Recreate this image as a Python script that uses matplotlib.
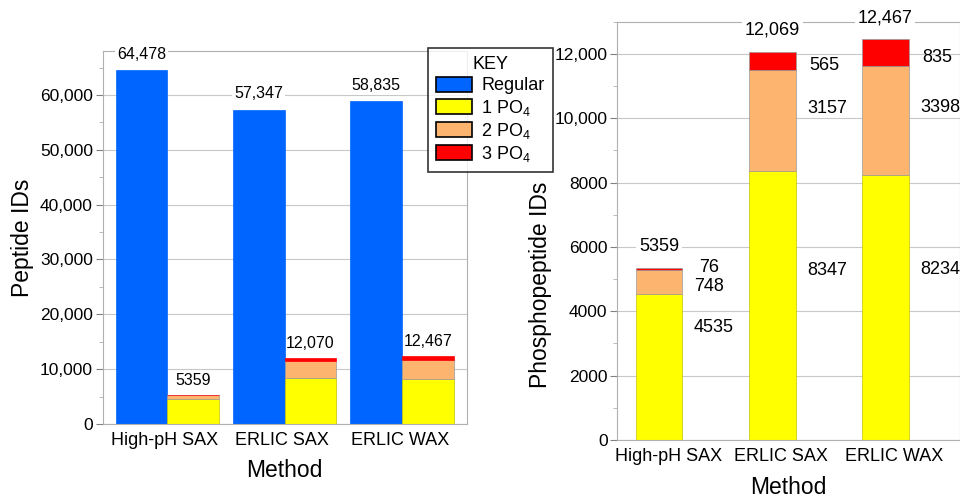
import numpy as np
import matplotlib.pyplot as plt
from matplotlib.patches import Patch
from matplotlib.ticker import FuncFormatter, MultipleLocator

plt.rcParams['font.family'] = ['Liberation Sans', 'DejaVu Sans']
plt.rcParams['mathtext.fontset'] = 'custom'
plt.rcParams['mathtext.rm'] = 'Liberation Sans'

# Data
methods = ['High-pH SAX', 'ERLIC SAX', 'ERLIC WAX']
regular = [64478, 57347, 58835]
one_po4 = [4535, 8347, 8234]
two_po4 = [748, 3157, 3398]
three_po4 = [76, 565, 835]
phospho_total = [5359, 12070, 12467]       # as printed on left panel
phospho_total_right = [5359, 12069, 12467]  # as printed on right panel

# label heights for the segment labels on the right panel (data units)
lab_one_y = [3480, 5280, 5310]
lab_two_y = [4780, 10310, 10350]
lab_three_y = [5370, 11650, 11900]

c_blue = '#0064ff'
c_yellow = '#ffff00'
c_orange = '#fdb46e'
c_red = '#ff0000'
edge = '#9a9a9a'
grid_c = '#c8c8c8'

fig = plt.figure(figsize=(9.6, 4.97), dpi=100)
ax1 = fig.add_axes([0.107, 0.147, 0.379, 0.750])
ax2 = fig.add_axes([0.643, 0.115, 0.357, 0.841])

def thousands(v, pos):
    return '{:,.0f}'.format(v)

def style_axes(ax):
    for s in ax.spines.values():
        s.set_color('#b0b0b0')
        s.set_linewidth(0.8)
    ax.tick_params(axis='y', which='major', length=5, color='#808080', labelsize=12.5, pad=2)
    ax.tick_params(axis='y', which='minor', length=3, color='#b0b0b0')
    ax.tick_params(axis='x', length=0, labelsize=13, pad=6)
    ax.yaxis.grid(True, color=grid_c, linewidth=0.8)
    ax.set_axisbelow(True)

x = np.arange(len(methods))
bw = 0.44

# Left panel
ax1.bar(x - bw / 2, regular, bw, color=c_blue, edgecolor=c_blue, linewidth=0.5)
b1 = np.array(one_po4)
b2 = b1 + np.array(two_po4)
ax1.bar(x + bw / 2, one_po4, bw, color=c_yellow, edgecolor='#c8c000', linewidth=0.5)
ax1.bar(x + bw / 2, two_po4, bw, bottom=b1, color=c_orange, edgecolor=edge, linewidth=0.5)
ax1.bar(x + bw / 2, three_po4, bw, bottom=b2, color=c_red, edgecolor=c_red, linewidth=0.5)

for i in range(len(methods)):
    ax1.text(x[i] - bw / 2, regular[i] + 1500, '{:,}'.format(regular[i]), ha='center', va='bottom',
             fontsize=11.5, bbox=dict(facecolor='white', edgecolor='none', pad=1.5))
    lab = '{:,}'.format(phospho_total[i]) if phospho_total[i] >= 10000 else str(phospho_total[i])
    ax1.text(x[i] + bw / 2, phospho_total[i] + 1200, lab, ha='center', va='bottom', fontsize=11.5)

ax1.set_xlim(-0.55, 2.55)
ax1.set_ylim(0, 68000)
ax1.yaxis.set_major_locator(MultipleLocator(10000))
ax1.yaxis.set_minor_locator(MultipleLocator(5000))
ax1.yaxis.set_major_formatter(FuncFormatter(thousands))
ax1.set_xticks(x - 0.02)
ax1.set_xticklabels(methods)
ax1.set_ylabel('Peptide IDs', fontsize=16.5, labelpad=4)
ax1.set_xlabel('Method', fontsize=16.5, labelpad=7)
style_axes(ax1)

# Right panel
bw2 = 0.413
ax2.bar(x, one_po4, bw2, color=c_yellow, edgecolor='#c8c000', linewidth=0.5)
ax2.bar(x, two_po4, bw2, bottom=b1, color=c_orange, edgecolor=edge, linewidth=0.5)
ax2.bar(x, three_po4, bw2, bottom=b2, color=c_red, edgecolor=edge, linewidth=0.5)

for i in range(len(methods)):
    tot = phospho_total_right[i]
    lab = '{:,}'.format(tot) if tot >= 10000 else str(tot)
    ax2.text(x[i], tot + 400, lab, ha='center', va='bottom', fontsize=13,
             bbox=dict(facecolor='white', edgecolor='none', pad=2))
    xr = x[i] + bw2 / 2 + 0.1
    ax2.text(xr, lab_one_y[i], str(one_po4[i]), ha='left', va='center', fontsize=13)
    ax2.text(xr, lab_two_y[i], str(two_po4[i]), ha='left', va='center', fontsize=13)
    ax2.text(xr + (0.05 if i == 0 else 0.02), lab_three_y[i], str(three_po4[i]),
             ha='left', va='center', fontsize=13)

ax2.set_xlim(-0.37, 2.66)
ax2.set_ylim(0, 13000)
ax2.yaxis.set_major_locator(MultipleLocator(2000))
ax2.yaxis.set_minor_locator(MultipleLocator(1000))
ax2.yaxis.set_major_formatter(FuncFormatter(lambda v, p: '{:,.0f}'.format(v) if v >= 10000 else '{:.0f}'.format(v)))
ax2.set_xticks(x + 0.08)
ax2.set_xticklabels(methods)
ax2.set_ylabel('Phosphopeptide IDs', fontsize=16.5)
ax2.yaxis.set_label_coords(-0.19, 0.37)
ax2.set_xlabel('Method', fontsize=16.5, labelpad=8)
style_axes(ax2)

# Legend
handles = [Patch(facecolor=c, edgecolor='black', linewidth=1.2) for c in (c_blue, c_yellow, c_orange, c_red)]
labels = ['Regular', '1 PO$_4$', '2 PO$_4$', '3 PO$_4$']
leg = fig.legend(handles, labels, title='KEY', loc='upper left', bbox_to_anchor=(0.446, 0.903),
                 fontsize=13, title_fontsize=13, frameon=True, fancybox=False,
                 edgecolor='black', handlelength=2.0, handleheight=0.9,
                 labelspacing=0.18, borderpad=0.45, handletextpad=0.5, borderaxespad=0)
leg.get_frame().set_linewidth(1.2)
leg.set_zorder(10)

fig.savefig('out.png', dpi=100)
